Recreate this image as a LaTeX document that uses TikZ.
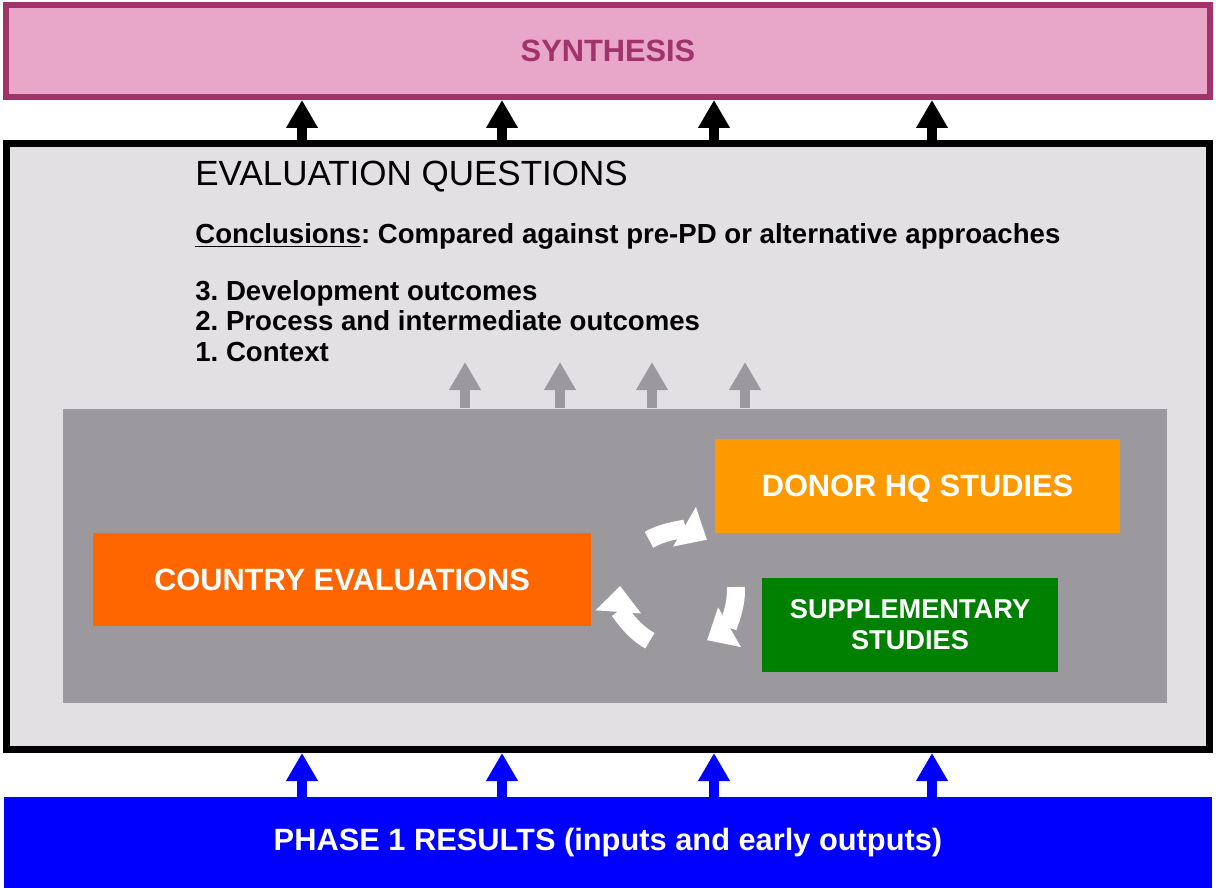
\documentclass[tikz,border=0pt]{standalone}
\usepackage{fontspec}
\setmainfont{Liberation Sans}
\usetikzlibrary{positioning,arrows.meta}
\definecolor{synthpink}{RGB}{232,166,200}
\definecolor{synthrim}{RGB}{160,51,106}
\definecolor{evalgray}{RGB}{227,224,228}
\definecolor{innergray}{RGB}{155,153,157}
\definecolor{countryorange}{RGB}{255,102,0}
\definecolor{donororange}{RGB}{255,153,0}
\definecolor{suppgreen}{RGB}{0,128,0}
\definecolor{phaseblue}{RGB}{0,0,255}
\frenchspacing

\begin{document}
\begin{tikzpicture}[x=0.5pt,y=0.5pt,
  bigbox/.style={rectangle,inner sep=0pt,font=\bfseries\fontsize{15.4}{18}\selectfont},
  studybox/.style={rectangle,inner sep=0pt,text=white,align=center,
    font=\bfseries\fontsize{15.4}{18}\selectfont},
  uparrow/.style={line width=5pt,-{Triangle[width=15pt,length=14pt]}},
  cyclearrow/.style={line width=9pt,white,-{Triangle[width=22pt,length=13pt]}},
  qline/.style={anchor=base west,inner sep=0pt,font=\bfseries\fontsize{13.8}{15.25}\selectfont}]

  \useasboundingbox (0,0) rectangle (1216,-888);

  \node[bigbox,fill=synthpink,draw=synthrim,line width=3pt,text=synthrim,
    minimum width=602pt,minimum height=46pt] (synth) at (608,-51) {SYNTHESIS};

  \node[bigbox,fill=evalgray,draw=black,line width=3.5pt,
    minimum width=601.5pt,minimum height=303pt,below=20pt of synth] (evalbox) {};

  \node[bigbox,fill=phaseblue,text=white,
    minimum width=604pt,minimum height=45.5pt,below=22pt of evalbox] (phase)
    {PHASE 1 RESULTS (inputs and early outputs)};

  % evaluation questions
  \node[anchor=base west,inner sep=0pt,font=\fontsize{17.5}{20}\selectfont] (qhead) at (195,-185)
    {EVALUATION QUESTIONS};
  \node[qline] (qconcl) at (195,-243)
    {\underline{Conclusions}: Compared against pre-PD or alternative approaches};
  \node[qline] (qdev) at (195,-300) {3. Development outcomes};
  \node[qline] (qproc) at ([yshift=-15.25pt]qdev.base west) {2. Process and intermediate outcomes};
  \node[qline] (qctx) at ([yshift=-15.5pt]qproc.base west) {1. Context};

  % studies
  \node[rectangle,inner sep=0pt,fill=innergray,minimum width=552pt,minimum height=147pt]
    (inner) at (615,-555.5) {};
  \node[studybox,fill=countryorange,minimum width=249pt,minimum height=46.5pt]
    (country) at (342,-579.5) {COUNTRY EVALUATIONS};
  \node[studybox,fill=donororange,minimum width=202.5pt,minimum height=47pt,text depth=0pt]
    (donor) at (917.5,-486) {DONOR HQ STUDIES};
  \node[studybox,fill=suppgreen,minimum width=148pt,minimum height=47pt,
    font=\bfseries\fontsize{13.6}{15.5}\selectfont]
    (supp) at (910,-625) {\raisebox{-1.5pt}{SUPPLEMENTARY}\\\raisebox{-1.5pt}{STUDIES}};

  % cycle between the studies
  \coordinate (cyc) at (678,-590);
  \draw[cyclearrow] ([shift={(120:29pt)}]cyc) arc[start angle=120,end angle=60,radius=29pt];
  \draw[cyclearrow] ([shift={(3:29pt)}]cyc) arc[start angle=3,end angle=-60,radius=29pt];
  \draw[cyclearrow] ([shift={(241:29pt)}]cyc) arc[start angle=241,end angle=176,radius=29pt];

  % arrow columns
  \coordinate (a1) at (302,0);
  \coordinate (a2) at (502,0);
  \coordinate (a3) at (714,0);
  \coordinate (a4) at (932,0);
  \coordinate (g1) at (465,-362);
  \coordinate (g2) at (560,-362);
  \coordinate (g3) at (652,-362);
  \coordinate (g4) at (745,-362);

  % up to synthesis
  \draw[uparrow] (a1 |- evalbox.north) -- (a1 |- synth.south);
  \draw[uparrow] (a2 |- evalbox.north) -- (a2 |- synth.south);
  \draw[uparrow] (a3 |- evalbox.north) -- (a3 |- synth.south);
  \draw[uparrow] (a4 |- evalbox.north) -- (a4 |- synth.south);

  % up from phase 1
  \draw[uparrow,phaseblue] (a1 |- phase.north) -- (a1 |- evalbox.south);
  \draw[uparrow,phaseblue] (a2 |- phase.north) -- (a2 |- evalbox.south);
  \draw[uparrow,phaseblue] (a3 |- phase.north) -- (a3 |- evalbox.south);
  \draw[uparrow,phaseblue] (a4 |- phase.north) -- (a4 |- evalbox.south);

  % up to the questions
  \draw[uparrow,innergray] (g1 |- inner.north) -- (g1);
  \draw[uparrow,innergray] (g2 |- inner.north) -- (g2);
  \draw[uparrow,innergray] (g3 |- inner.north) -- (g3);
  \draw[uparrow,innergray] (g4 |- inner.north) -- (g4);

\end{tikzpicture}
\end{document}
